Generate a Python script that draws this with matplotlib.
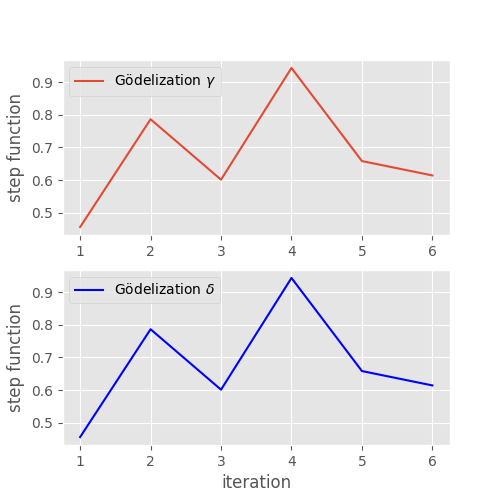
import numpy as np
import matplotlib
matplotlib.use("Agg")
import matplotlib.pyplot as plt

plt.style.use("ggplot")

iterations = [1, 2, 3, 4, 5, 6]
gamma_vals = [0.456, 0.786, 0.601, 0.943, 0.658, 0.614]
delta_vals = [0.456, 0.786, 0.601, 0.943, 0.658, 0.614]

fig, (ax1, ax2) = plt.subplots(2, 1, figsize=(5, 5), dpi=100)

ax1.plot(iterations, gamma_vals, color="#E24A33", label=r"Gödelization $\gamma$")
ax1.set_ylabel("step function")
ax1.legend(loc="upper left")

ax2.plot(iterations, delta_vals, color="blue", label=r"Gödelization $\delta$")
ax2.set_ylabel("step function")
ax2.set_xlabel("iteration")
ax2.legend(loc="upper left")

fig.savefig("out.png")
